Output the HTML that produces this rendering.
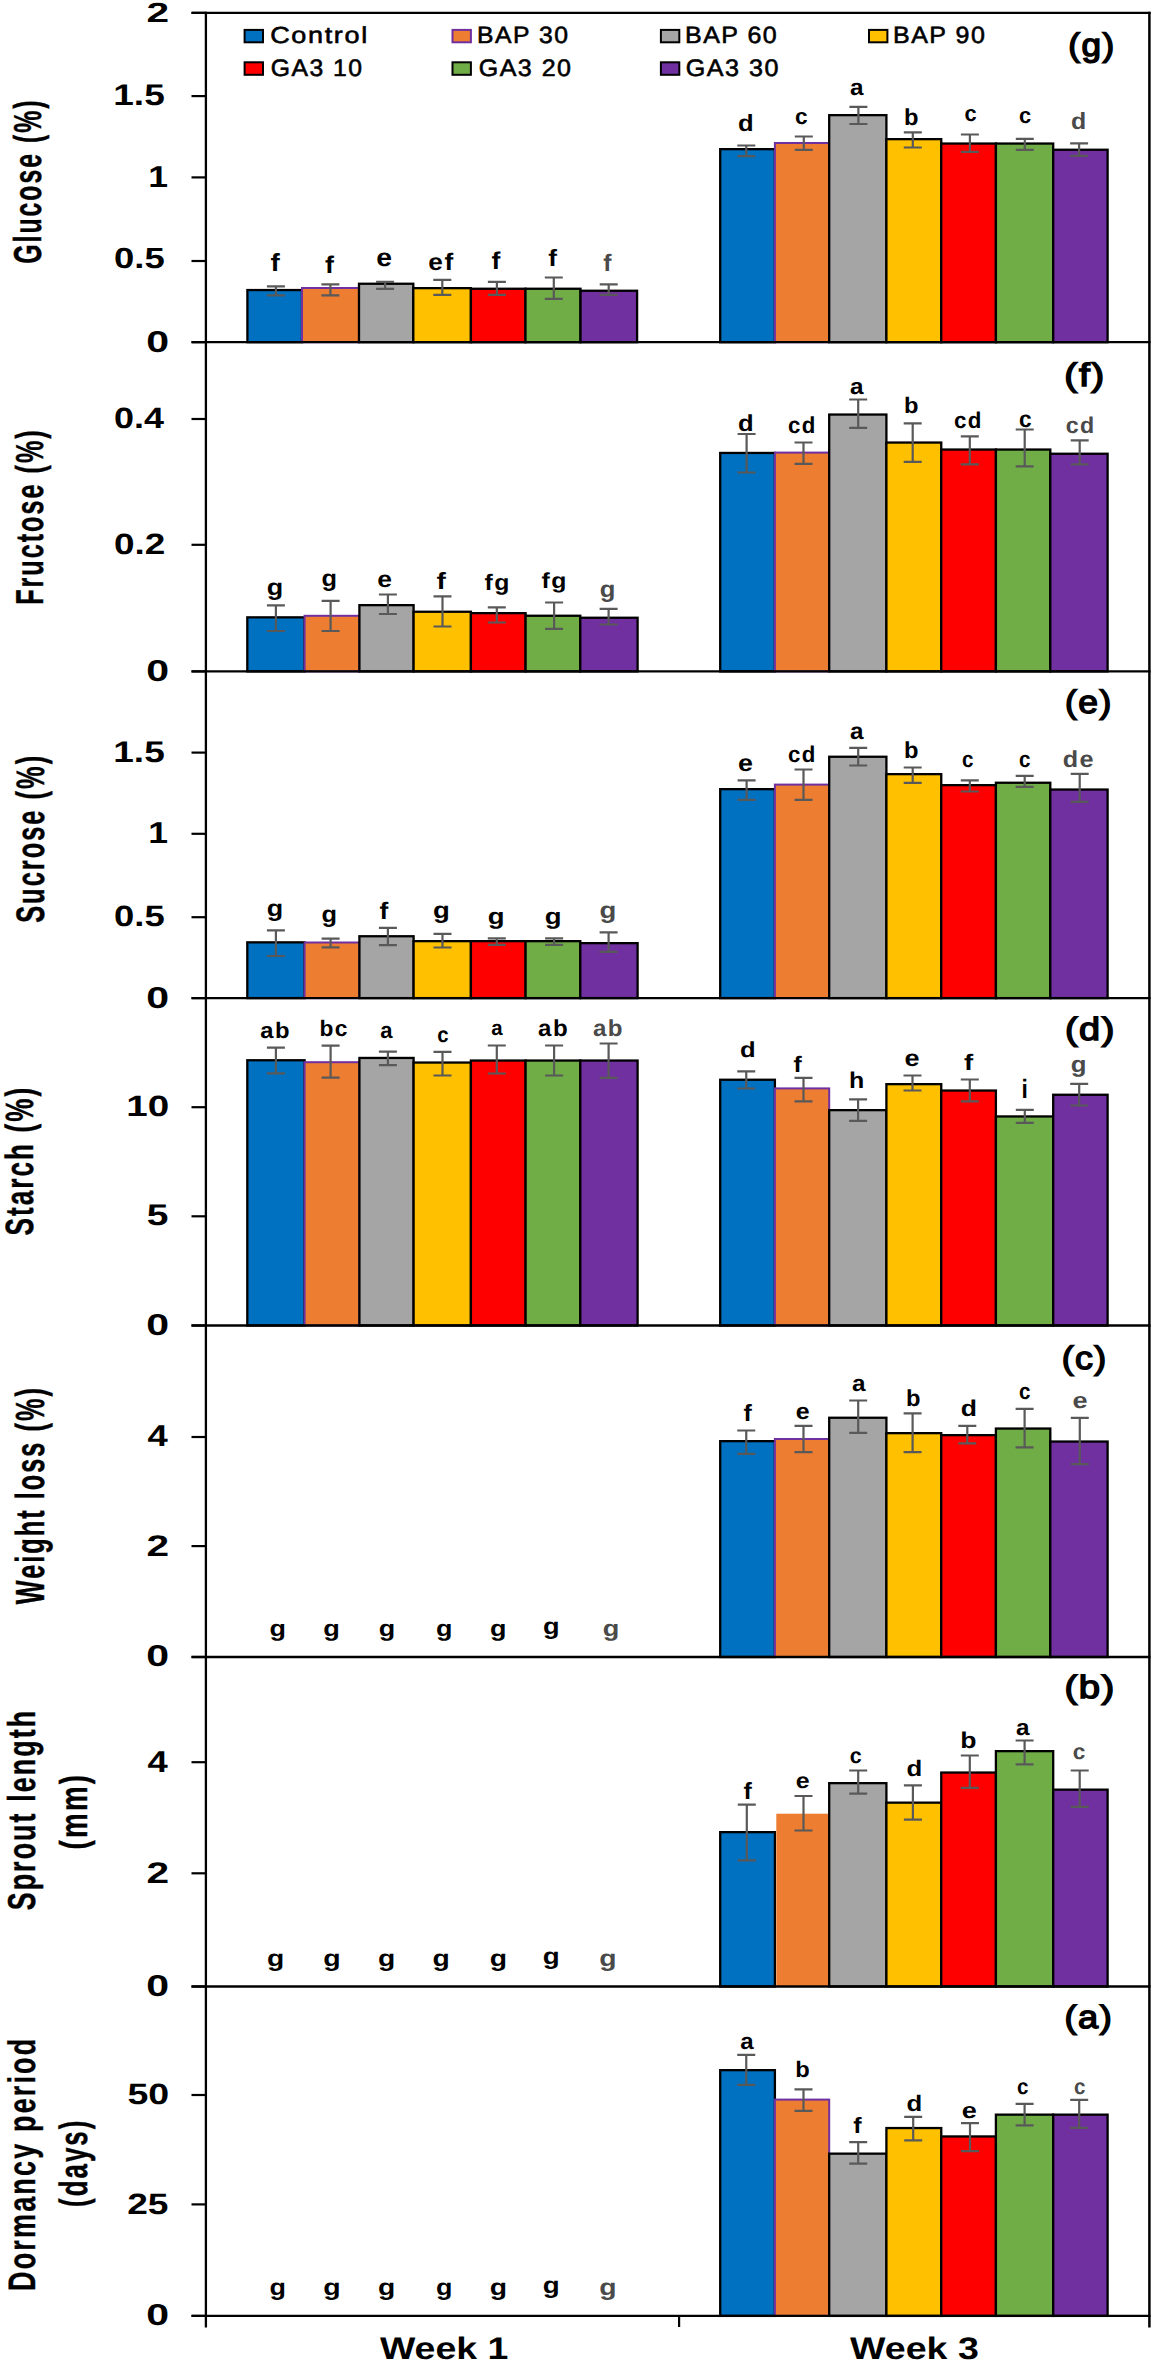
<!DOCTYPE html>
<html><head><meta charset="utf-8"><style>html,body{margin:0;padding:0;background:#fff;width:1152px;height:2362px;overflow:hidden}svg{display:block}text{font-family:"Liberation Sans",sans-serif;font-weight:bold;font-size:100px;text-rendering:geometricPrecision}.reg{font-weight:normal;stroke-width:2.5px}.med{font-weight:bold;stroke-width:1px}.lab{font-weight:bold;stroke-width:0px}.tag{font-weight:normal;stroke-width:4.5px}</style></head><body>
<svg width="1152" height="2362" viewBox="0 0 1152 2362">
<rect x="0" y="0" width="1152" height="2362" fill="#fff"/>
<rect x="247.4" y="290.05" width="54.6" height="52.15" fill="#0070C0" stroke="#000" stroke-width="2.3"/>
<rect x="302" y="288" width="57" height="54.2" fill="#ED7D31" stroke="#7030A0" stroke-width="2.0"/>
<rect x="359" y="283.75" width="54.3" height="58.45" fill="#A5A5A5" stroke="#000" stroke-width="2.3"/>
<rect x="413.3" y="288.15" width="57.6" height="54.05" fill="#FFC000" stroke="#000" stroke-width="2.3"/>
<rect x="470.9" y="288.75" width="54.6" height="53.45" fill="#FF0000" stroke="#000" stroke-width="2.3"/>
<rect x="525.5" y="288.75" width="55" height="53.45" fill="#70AD47" stroke="#000" stroke-width="2.3"/>
<rect x="580.5" y="290.75" width="56.6" height="51.45" fill="#7030A0" stroke="#000" stroke-width="2.3"/>
<rect x="720.2" y="149.15" width="54.7" height="193.05" fill="#0070C0" stroke="#000" stroke-width="2.3"/>
<rect x="774.9" y="143" width="54.3" height="199.2" fill="#ED7D31" stroke="#7030A0" stroke-width="2.0"/>
<rect x="829.2" y="115.15" width="57.2" height="227.05" fill="#A5A5A5" stroke="#000" stroke-width="2.3"/>
<rect x="886.4" y="139.15" width="54.85" height="203.05" fill="#FFC000" stroke="#000" stroke-width="2.3"/>
<rect x="941.25" y="143.55" width="54.65" height="198.65" fill="#FF0000" stroke="#000" stroke-width="2.3"/>
<rect x="995.9" y="143.55" width="57.3" height="198.65" fill="#70AD47" stroke="#000" stroke-width="2.3"/>
<rect x="1053.2" y="149.75" width="54.4" height="192.45" fill="#7030A0" stroke="#000" stroke-width="2.3"/>
<rect x="247.3" y="617.35" width="57.3" height="54.05" fill="#0070C0" stroke="#000" stroke-width="2.3"/>
<rect x="304.6" y="615.8" width="54.8" height="55.6" fill="#ED7D31" stroke="#7030A0" stroke-width="2.0"/>
<rect x="359.4" y="605.15" width="54.2" height="66.25" fill="#A5A5A5" stroke="#000" stroke-width="2.3"/>
<rect x="413.6" y="611.75" width="57.3" height="59.65" fill="#FFC000" stroke="#000" stroke-width="2.3"/>
<rect x="470.9" y="613.15" width="54.7" height="58.25" fill="#FF0000" stroke="#000" stroke-width="2.3"/>
<rect x="525.6" y="615.75" width="54.7" height="55.65" fill="#70AD47" stroke="#000" stroke-width="2.3"/>
<rect x="580.3" y="617.75" width="57.3" height="53.65" fill="#7030A0" stroke="#000" stroke-width="2.3"/>
<rect x="720.2" y="452.95" width="54.7" height="218.45" fill="#0070C0" stroke="#000" stroke-width="2.3"/>
<rect x="774.9" y="452.6" width="54.3" height="218.8" fill="#ED7D31" stroke="#7030A0" stroke-width="2.0"/>
<rect x="829.2" y="414.55" width="57.2" height="256.85" fill="#A5A5A5" stroke="#000" stroke-width="2.3"/>
<rect x="886.4" y="442.55" width="54.85" height="228.85" fill="#FFC000" stroke="#000" stroke-width="2.3"/>
<rect x="941.25" y="449.55" width="54.65" height="221.85" fill="#FF0000" stroke="#000" stroke-width="2.3"/>
<rect x="995.9" y="449.55" width="54.4" height="221.85" fill="#70AD47" stroke="#000" stroke-width="2.3"/>
<rect x="1050.3" y="453.75" width="57.3" height="217.65" fill="#7030A0" stroke="#000" stroke-width="2.3"/>
<rect x="247.3" y="942.35" width="57.3" height="55.75" fill="#0070C0" stroke="#000" stroke-width="2.3"/>
<rect x="304.6" y="942.5" width="54.8" height="55.6" fill="#ED7D31" stroke="#7030A0" stroke-width="2.0"/>
<rect x="359.4" y="936.25" width="54.2" height="61.85" fill="#A5A5A5" stroke="#000" stroke-width="2.3"/>
<rect x="413.6" y="941.15" width="57.3" height="56.95" fill="#FFC000" stroke="#000" stroke-width="2.3"/>
<rect x="470.9" y="941.15" width="54.7" height="56.95" fill="#FF0000" stroke="#000" stroke-width="2.3"/>
<rect x="525.6" y="941.15" width="54.7" height="56.95" fill="#70AD47" stroke="#000" stroke-width="2.3"/>
<rect x="580.3" y="943.15" width="57.3" height="54.95" fill="#7030A0" stroke="#000" stroke-width="2.3"/>
<rect x="720.2" y="789.15" width="54.7" height="208.95" fill="#0070C0" stroke="#000" stroke-width="2.3"/>
<rect x="774.9" y="784.6" width="54.3" height="213.5" fill="#ED7D31" stroke="#7030A0" stroke-width="2.0"/>
<rect x="829.2" y="756.75" width="57.2" height="241.35" fill="#A5A5A5" stroke="#000" stroke-width="2.3"/>
<rect x="886.4" y="774.15" width="54.85" height="223.95" fill="#FFC000" stroke="#000" stroke-width="2.3"/>
<rect x="941.25" y="785.15" width="54.65" height="212.95" fill="#FF0000" stroke="#000" stroke-width="2.3"/>
<rect x="995.9" y="782.75" width="54.4" height="215.35" fill="#70AD47" stroke="#000" stroke-width="2.3"/>
<rect x="1050.3" y="789.55" width="57.3" height="208.55" fill="#7030A0" stroke="#000" stroke-width="2.3"/>
<rect x="247.3" y="1060.25" width="57.3" height="265.25" fill="#0070C0" stroke="#000" stroke-width="2.3"/>
<rect x="304.6" y="1062.2" width="54.8" height="263.3" fill="#ED7D31" stroke="#7030A0" stroke-width="2.0"/>
<rect x="359.4" y="1057.95" width="54.2" height="267.55" fill="#A5A5A5" stroke="#000" stroke-width="2.3"/>
<rect x="413.6" y="1062.55" width="57.3" height="262.95" fill="#FFC000" stroke="#000" stroke-width="2.3"/>
<rect x="470.9" y="1060.55" width="54.7" height="264.95" fill="#FF0000" stroke="#000" stroke-width="2.3"/>
<rect x="525.6" y="1060.55" width="54.7" height="264.95" fill="#70AD47" stroke="#000" stroke-width="2.3"/>
<rect x="580.3" y="1060.55" width="57.3" height="264.95" fill="#7030A0" stroke="#000" stroke-width="2.3"/>
<rect x="720.2" y="1079.75" width="54.7" height="245.75" fill="#0070C0" stroke="#000" stroke-width="2.3"/>
<rect x="774.9" y="1088.4" width="54.3" height="237.1" fill="#ED7D31" stroke="#7030A0" stroke-width="2.0"/>
<rect x="829.2" y="1110.15" width="57.2" height="215.35" fill="#A5A5A5" stroke="#000" stroke-width="2.3"/>
<rect x="886.4" y="1084.15" width="54.85" height="241.35" fill="#FFC000" stroke="#000" stroke-width="2.3"/>
<rect x="941.25" y="1090.55" width="54.65" height="234.95" fill="#FF0000" stroke="#000" stroke-width="2.3"/>
<rect x="995.9" y="1116.45" width="57.3" height="209.05" fill="#70AD47" stroke="#000" stroke-width="2.3"/>
<rect x="1053.2" y="1094.75" width="54.4" height="230.75" fill="#7030A0" stroke="#000" stroke-width="2.3"/>
<rect x="720.2" y="1441.15" width="54.7" height="215.85" fill="#0070C0" stroke="#000" stroke-width="2.3"/>
<rect x="774.9" y="1439" width="54.3" height="218" fill="#ED7D31" stroke="#7030A0" stroke-width="2.0"/>
<rect x="829.2" y="1417.75" width="57.2" height="239.25" fill="#A5A5A5" stroke="#000" stroke-width="2.3"/>
<rect x="886.4" y="1433.15" width="54.85" height="223.85" fill="#FFC000" stroke="#000" stroke-width="2.3"/>
<rect x="941.25" y="1435.15" width="54.65" height="221.85" fill="#FF0000" stroke="#000" stroke-width="2.3"/>
<rect x="995.9" y="1428.55" width="54.4" height="228.45" fill="#70AD47" stroke="#000" stroke-width="2.3"/>
<rect x="1050.3" y="1441.55" width="57.3" height="215.45" fill="#7030A0" stroke="#000" stroke-width="2.3"/>
<rect x="720.2" y="1832.15" width="54.7" height="154.35" fill="#0070C0" stroke="#000" stroke-width="2.3"/>
<rect x="776.3" y="1813.7" width="52.9" height="172.8" fill="#ED7D31"/>
<rect x="829.2" y="1783.15" width="57.2" height="203.35" fill="#A5A5A5" stroke="#000" stroke-width="2.3"/>
<rect x="886.4" y="1802.65" width="54.85" height="183.85" fill="#FFC000" stroke="#000" stroke-width="2.3"/>
<rect x="941.25" y="1772.55" width="54.65" height="213.95" fill="#FF0000" stroke="#000" stroke-width="2.3"/>
<rect x="995.9" y="1751.15" width="57.3" height="235.35" fill="#70AD47" stroke="#000" stroke-width="2.3"/>
<rect x="1053.2" y="1789.65" width="54.4" height="196.85" fill="#7030A0" stroke="#000" stroke-width="2.3"/>
<rect x="720.2" y="2070.15" width="54.7" height="245.75" fill="#0070C0" stroke="#000" stroke-width="2.3"/>
<rect x="774.9" y="2099.6" width="54.3" height="216.3" fill="#ED7D31" stroke="#7030A0" stroke-width="2.0"/>
<rect x="829.2" y="2153.65" width="57.2" height="162.25" fill="#A5A5A5" stroke="#000" stroke-width="2.3"/>
<rect x="886.4" y="2128.05" width="54.85" height="187.85" fill="#FFC000" stroke="#000" stroke-width="2.3"/>
<rect x="941.25" y="2136.45" width="54.65" height="179.45" fill="#FF0000" stroke="#000" stroke-width="2.3"/>
<rect x="995.9" y="2114.65" width="57.3" height="201.25" fill="#70AD47" stroke="#000" stroke-width="2.3"/>
<rect x="1053.2" y="2114.65" width="54.4" height="201.25" fill="#7030A0" stroke="#000" stroke-width="2.3"/>
<path d="M275.9 286.3V295.3M266.9 286.3H284.9M266.9 295.3H284.9" stroke="#595959" stroke-width="2.2" fill="none"/>
<path d="M330.4 284.4V295.3M321.4 284.4H339.4M321.4 295.3H339.4" stroke="#595959" stroke-width="2.2" fill="none"/>
<path d="M385.1 281.8V288.8M376.1 281.8H394.1M376.1 288.8H394.1" stroke="#595959" stroke-width="2.2" fill="none"/>
<path d="M442.3 279.9V294.9M433.3 279.9H451.3M433.3 294.9H451.3" stroke="#595959" stroke-width="2.2" fill="none"/>
<path d="M496.9 281.9V294.9M487.9 281.9H505.9M487.9 294.9H505.9" stroke="#595959" stroke-width="2.2" fill="none"/>
<path d="M553.8 277.5V298.9M544.8 277.5H562.8M544.8 298.9H562.8" stroke="#595959" stroke-width="2.2" fill="none"/>
<path d="M608.7 284.3V294.9M599.7 284.3H617.7M599.7 294.9H617.7" stroke="#595959" stroke-width="2.2" fill="none"/>
<path d="M746.3 145.5V156.2M737.3 145.5H755.3M737.3 156.2H755.3" stroke="#595959" stroke-width="2.2" fill="none"/>
<path d="M803.8 136.5V149.9M794.8 136.5H812.8M794.8 149.9H812.8" stroke="#595959" stroke-width="2.2" fill="none"/>
<path d="M858.4 106.8V124M849.4 106.8H867.4M849.4 124H867.4" stroke="#595959" stroke-width="2.2" fill="none"/>
<path d="M912.8 132.3V147.5M903.8 132.3H921.8M903.8 147.5H921.8" stroke="#595959" stroke-width="2.2" fill="none"/>
<path d="M969.9 134.5V151.9M960.9 134.5H978.9M960.9 151.9H978.9" stroke="#595959" stroke-width="2.2" fill="none"/>
<path d="M1024.8 138.9V149.9M1015.8 138.9H1033.8M1015.8 149.9H1033.8" stroke="#595959" stroke-width="2.2" fill="none"/>
<path d="M1079.1 143.3V155.8M1070.1 143.3H1088.1M1070.1 155.8H1088.1" stroke="#595959" stroke-width="2.2" fill="none"/>
<path d="M275.9 605.3V631M266.9 605.3H284.9M266.9 631H284.9" stroke="#595959" stroke-width="2.2" fill="none"/>
<path d="M330.6 600.9V631M321.6 600.9H339.6M321.6 631H339.6" stroke="#595959" stroke-width="2.2" fill="none"/>
<path d="M387.9 594.5V614M378.9 594.5H396.9M378.9 614H396.9" stroke="#595959" stroke-width="2.2" fill="none"/>
<path d="M442.5 596.3V626.5M433.5 596.3H451.5M433.5 626.5H451.5" stroke="#595959" stroke-width="2.2" fill="none"/>
<path d="M496.8 607.3V622.5M487.8 607.3H505.8M487.8 622.5H505.8" stroke="#595959" stroke-width="2.2" fill="none"/>
<path d="M554.1 602.5V628.9M545.1 602.5H563.1M545.1 628.9H563.1" stroke="#595959" stroke-width="2.2" fill="none"/>
<path d="M608.6 608.9V624.5M599.6 608.9H617.6M599.6 624.5H617.6" stroke="#595959" stroke-width="2.2" fill="none"/>
<path d="M746.6 434V472.5M737.6 434H755.6M737.6 472.5H755.6" stroke="#595959" stroke-width="2.2" fill="none"/>
<path d="M803.5 442.5V463.8M794.5 442.5H812.5M794.5 463.8H812.5" stroke="#595959" stroke-width="2.2" fill="none"/>
<path d="M858.2 399.5V427.9M849.2 399.5H867.2M849.2 427.9H867.2" stroke="#595959" stroke-width="2.2" fill="none"/>
<path d="M912.7 423.3V461.8M903.7 423.3H921.7M903.7 461.8H921.7" stroke="#595959" stroke-width="2.2" fill="none"/>
<path d="M969.8 436.3V464.3M960.8 436.3H978.8M960.8 464.3H978.8" stroke="#595959" stroke-width="2.2" fill="none"/>
<path d="M1024.7 429.5V466.3M1015.7 429.5H1033.7M1015.7 466.3H1033.7" stroke="#595959" stroke-width="2.2" fill="none"/>
<path d="M1079.7 440.3V464.3M1070.7 440.3H1088.7M1070.7 464.3H1088.7" stroke="#595959" stroke-width="2.2" fill="none"/>
<path d="M275.9 930.3V956M266.9 930.3H284.9M266.9 956H284.9" stroke="#595959" stroke-width="2.2" fill="none"/>
<path d="M330.6 938.6V947.3M321.6 938.6H339.6M321.6 947.3H339.6" stroke="#595959" stroke-width="2.2" fill="none"/>
<path d="M387.9 927.8V945.2M378.9 927.8H396.9M378.9 945.2H396.9" stroke="#595959" stroke-width="2.2" fill="none"/>
<path d="M442.5 933.9V947.5M433.5 933.9H451.5M433.5 947.5H451.5" stroke="#595959" stroke-width="2.2" fill="none"/>
<path d="M496.8 938.3V944.9M487.8 938.3H505.8M487.8 944.9H505.8" stroke="#595959" stroke-width="2.2" fill="none"/>
<path d="M554.1 938.3V944.9M545.1 938.3H563.1M545.1 944.9H563.1" stroke="#595959" stroke-width="2.2" fill="none"/>
<path d="M608.6 932.3V951.9M599.6 932.3H617.6M599.6 951.9H617.6" stroke="#595959" stroke-width="2.2" fill="none"/>
<path d="M746.6 780.3V799.8M737.6 780.3H755.6M737.6 799.8H755.6" stroke="#595959" stroke-width="2.2" fill="none"/>
<path d="M803.5 769.5V799.8M794.5 769.5H812.5M794.5 799.8H812.5" stroke="#595959" stroke-width="2.2" fill="none"/>
<path d="M858.2 747.9V765.5M849.2 747.9H867.2M849.2 765.5H867.2" stroke="#595959" stroke-width="2.2" fill="none"/>
<path d="M912.7 767.5V782.9M903.7 767.5H921.7M903.7 782.9H921.7" stroke="#595959" stroke-width="2.2" fill="none"/>
<path d="M969.8 780.3V791.5M960.8 780.3H978.8M960.8 791.5H978.8" stroke="#595959" stroke-width="2.2" fill="none"/>
<path d="M1024.7 775.9V786.9M1015.7 775.9H1033.7M1015.7 786.9H1033.7" stroke="#595959" stroke-width="2.2" fill="none"/>
<path d="M1079.7 773.9V801.8M1070.7 773.9H1088.7M1070.7 801.8H1088.7" stroke="#595959" stroke-width="2.2" fill="none"/>
<path d="M275.9 1047.7V1073.4M266.9 1047.7H284.9M266.9 1073.4H284.9" stroke="#595959" stroke-width="2.2" fill="none"/>
<path d="M330.6 1045.6V1077.7M321.6 1045.6H339.6M321.6 1077.7H339.6" stroke="#595959" stroke-width="2.2" fill="none"/>
<path d="M387.9 1051.7V1065.2M378.9 1051.7H396.9M378.9 1065.2H396.9" stroke="#595959" stroke-width="2.2" fill="none"/>
<path d="M442.5 1051.9V1075.5M433.5 1051.9H451.5M433.5 1075.5H451.5" stroke="#595959" stroke-width="2.2" fill="none"/>
<path d="M496.8 1045.5V1073.5M487.8 1045.5H505.8M487.8 1073.5H505.8" stroke="#595959" stroke-width="2.2" fill="none"/>
<path d="M554.1 1045.5V1075.5M545.1 1045.5H563.1M545.1 1075.5H563.1" stroke="#595959" stroke-width="2.2" fill="none"/>
<path d="M608.6 1043.5V1077.9M599.6 1043.5H617.6M599.6 1077.9H617.6" stroke="#595959" stroke-width="2.2" fill="none"/>
<path d="M746.25 1071.3V1088.5M737.25 1071.3H755.25M737.25 1088.5H755.25" stroke="#595959" stroke-width="2.2" fill="none"/>
<path d="M803.5 1077.9V1101.3M794.5 1077.9H812.5M794.5 1101.3H812.5" stroke="#595959" stroke-width="2.2" fill="none"/>
<path d="M858.1 1099.3V1120.8M849.1 1099.3H867.1M849.1 1120.8H867.1" stroke="#595959" stroke-width="2.2" fill="none"/>
<path d="M912.5 1075.5V1090.5M903.5 1075.5H921.5M903.5 1090.5H921.5" stroke="#595959" stroke-width="2.2" fill="none"/>
<path d="M969.8 1079.5V1101.3M960.8 1079.5H978.8M960.8 1101.3H978.8" stroke="#595959" stroke-width="2.2" fill="none"/>
<path d="M1024.8 1109.9V1122.8M1015.8 1109.9H1033.8M1015.8 1122.8H1033.8" stroke="#595959" stroke-width="2.2" fill="none"/>
<path d="M1079.2 1083.9V1105.5M1070.2 1083.9H1088.2M1070.2 1105.5H1088.2" stroke="#595959" stroke-width="2.2" fill="none"/>
<path d="M746.25 1430.5V1453.8M737.25 1430.5H755.25M737.25 1453.8H755.25" stroke="#595959" stroke-width="2.2" fill="none"/>
<path d="M803.5 1425.9V1452.2M794.5 1425.9H812.5M794.5 1452.2H812.5" stroke="#595959" stroke-width="2.2" fill="none"/>
<path d="M858.2 1400.5V1432.9M849.2 1400.5H867.2M849.2 1432.9H867.2" stroke="#595959" stroke-width="2.2" fill="none"/>
<path d="M912.6 1413.3V1452.2M903.6 1413.3H921.6M903.6 1452.2H921.6" stroke="#595959" stroke-width="2.2" fill="none"/>
<path d="M967.3 1425.9V1443.4M958.3 1425.9H976.3M958.3 1443.4H976.3" stroke="#595959" stroke-width="2.2" fill="none"/>
<path d="M1024.6 1408.9V1447.4M1015.6 1408.9H1033.6M1015.6 1447.4H1033.6" stroke="#595959" stroke-width="2.2" fill="none"/>
<path d="M1079.8 1417.9V1464.2M1070.8 1417.9H1088.8M1070.8 1464.2H1088.8" stroke="#595959" stroke-width="2.2" fill="none"/>
<path d="M746.8 1804.6V1860.3M737.8 1804.6H755.8M737.8 1860.3H755.8" stroke="#595959" stroke-width="2.2" fill="none"/>
<path d="M803.5 1796V1830.5M794.5 1796H812.5M794.5 1830.5H812.5" stroke="#595959" stroke-width="2.2" fill="none"/>
<path d="M858.2 1770.5V1793.7M849.2 1770.5H867.2M849.2 1793.7H867.2" stroke="#595959" stroke-width="2.2" fill="none"/>
<path d="M912.9 1785.4V1819.6M903.9 1785.4H921.9M903.9 1819.6H921.9" stroke="#595959" stroke-width="2.2" fill="none"/>
<path d="M969.8 1755.5V1787.8M960.8 1755.5H978.8M960.8 1787.8H978.8" stroke="#595959" stroke-width="2.2" fill="none"/>
<path d="M1024.6 1740.5V1764.3M1015.6 1740.5H1033.6M1015.6 1764.3H1033.6" stroke="#595959" stroke-width="2.2" fill="none"/>
<path d="M1079.7 1770.5V1806.8M1070.7 1770.5H1088.7M1070.7 1806.8H1088.7" stroke="#595959" stroke-width="2.2" fill="none"/>
<path d="M746.25 2054.9V2084.9M737.25 2054.9H755.25M737.25 2084.9H755.25" stroke="#595959" stroke-width="2.2" fill="none"/>
<path d="M803.5 2089.3V2110.8M794.5 2089.3H812.5M794.5 2110.8H812.5" stroke="#595959" stroke-width="2.2" fill="none"/>
<path d="M858.2 2142.2V2163.7M849.2 2142.2H867.2M849.2 2163.7H867.2" stroke="#595959" stroke-width="2.2" fill="none"/>
<path d="M913.2 2116.8V2140.4M904.2 2116.8H922.2M904.2 2140.4H922.2" stroke="#595959" stroke-width="2.2" fill="none"/>
<path d="M970 2123.2V2151.2M961 2123.2H979M961 2151.2H979" stroke="#595959" stroke-width="2.2" fill="none"/>
<path d="M1024.6 2103.8V2125.4M1015.6 2103.8H1033.6M1015.6 2125.4H1033.6" stroke="#595959" stroke-width="2.2" fill="none"/>
<path d="M1079.2 2099.9V2127.8M1070.2 2099.9H1088.2M1070.2 2127.8H1088.2" stroke="#595959" stroke-width="2.2" fill="none"/>
<line x1="191.5" y1="12.85" x2="1150.55" y2="12.85" stroke="#000" stroke-width="2.3"/>
<line x1="191.5" y1="342.2" x2="1150.55" y2="342.2" stroke="#000" stroke-width="2.3"/>
<line x1="191.5" y1="671.4" x2="1150.55" y2="671.4" stroke="#000" stroke-width="2.3"/>
<line x1="191.5" y1="998.1" x2="1150.55" y2="998.1" stroke="#000" stroke-width="2.3"/>
<line x1="191.5" y1="1325.5" x2="1150.55" y2="1325.5" stroke="#000" stroke-width="2.3"/>
<line x1="191.5" y1="1657" x2="1150.55" y2="1657" stroke="#000" stroke-width="2.3"/>
<line x1="191.5" y1="1986.5" x2="1150.55" y2="1986.5" stroke="#000" stroke-width="2.3"/>
<line x1="191.5" y1="2315.9" x2="1150.55" y2="2315.9" stroke="#000" stroke-width="2.3"/>
<line x1="205.9" y1="11.7" x2="205.9" y2="2327.5" stroke="#000" stroke-width="2.3"/>
<line x1="1149.4" y1="11.7" x2="1149.4" y2="2327.5" stroke="#000" stroke-width="2.5"/>
<line x1="679.1" y1="2315.9" x2="679.1" y2="2327" stroke="#000" stroke-width="2.2"/>
<line x1="191.5" y1="12.85" x2="205.9" y2="12.85" stroke="#000" stroke-width="2.2"/>
<line x1="191.5" y1="96.1" x2="205.9" y2="96.1" stroke="#000" stroke-width="2.2"/>
<line x1="191.5" y1="177.4" x2="205.9" y2="177.4" stroke="#000" stroke-width="2.2"/>
<line x1="191.5" y1="261" x2="205.9" y2="261" stroke="#000" stroke-width="2.2"/>
<line x1="191.5" y1="342.2" x2="205.9" y2="342.2" stroke="#000" stroke-width="2.2"/>
<line x1="191.5" y1="419" x2="205.9" y2="419" stroke="#000" stroke-width="2.2"/>
<line x1="191.5" y1="544.8" x2="205.9" y2="544.8" stroke="#000" stroke-width="2.2"/>
<line x1="191.5" y1="671.4" x2="205.9" y2="671.4" stroke="#000" stroke-width="2.2"/>
<line x1="191.5" y1="752.6" x2="205.9" y2="752.6" stroke="#000" stroke-width="2.2"/>
<line x1="191.5" y1="833.8" x2="205.9" y2="833.8" stroke="#000" stroke-width="2.2"/>
<line x1="191.5" y1="917.2" x2="205.9" y2="917.2" stroke="#000" stroke-width="2.2"/>
<line x1="191.5" y1="998.1" x2="205.9" y2="998.1" stroke="#000" stroke-width="2.2"/>
<line x1="191.5" y1="1107.2" x2="205.9" y2="1107.2" stroke="#000" stroke-width="2.2"/>
<line x1="191.5" y1="1216.3" x2="205.9" y2="1216.3" stroke="#000" stroke-width="2.2"/>
<line x1="191.5" y1="1325.5" x2="205.9" y2="1325.5" stroke="#000" stroke-width="2.2"/>
<line x1="191.5" y1="1437" x2="205.9" y2="1437" stroke="#000" stroke-width="2.2"/>
<line x1="191.5" y1="1546.1" x2="205.9" y2="1546.1" stroke="#000" stroke-width="2.2"/>
<line x1="191.5" y1="1657" x2="205.9" y2="1657" stroke="#000" stroke-width="2.2"/>
<line x1="191.5" y1="1762.2" x2="205.9" y2="1762.2" stroke="#000" stroke-width="2.2"/>
<line x1="191.5" y1="1873.3" x2="205.9" y2="1873.3" stroke="#000" stroke-width="2.2"/>
<line x1="191.5" y1="1986.5" x2="205.9" y2="1986.5" stroke="#000" stroke-width="2.2"/>
<line x1="191.5" y1="2095" x2="205.9" y2="2095" stroke="#000" stroke-width="2.2"/>
<line x1="191.5" y1="2204.4" x2="205.9" y2="2204.4" stroke="#000" stroke-width="2.2"/>
<line x1="191.5" y1="2315.9" x2="205.9" y2="2315.9" stroke="#000" stroke-width="2.2"/>
<text transform="translate(146.58 22.2) scale(0.4062 0.2771)" fill="#000">2</text>
<text transform="translate(113.28 105.2) scale(0.3701 0.2971)" fill="#000">1.5</text>
<text transform="translate(148.37 186.8) scale(0.3553 0.3014)" fill="#000">1</text>
<text transform="translate(114.04 267.51) scale(0.3645 0.2901)" fill="#000">0.5</text>
<text transform="translate(146.36 351.65) scale(0.4105 0.3028)" fill="#000">0</text>
<text transform="translate(114.06 428.11) scale(0.3591 0.2930)" fill="#000">0.4</text>
<text transform="translate(114.03 553.91) scale(0.3687 0.2930)" fill="#000">0.2</text>
<text transform="translate(146.36 680.85) scale(0.4105 0.3028)" fill="#000">0</text>
<text transform="translate(113.28 761.7) scale(0.3701 0.2971)" fill="#000">1.5</text>
<text transform="translate(148.37 843.2) scale(0.3553 0.3014)" fill="#000">1</text>
<text transform="translate(114.04 926.31) scale(0.3645 0.2930)" fill="#000">0.5</text>
<text transform="translate(146.36 1007.55) scale(0.4105 0.3028)" fill="#000">0</text>
<text transform="translate(126.18 1116.31) scale(0.3861 0.2930)" fill="#000">10</text>
<text transform="translate(146.83 1225.4) scale(0.3900 0.2971)" fill="#000">5</text>
<text transform="translate(146.36 1334.95) scale(0.4105 0.3028)" fill="#000">0</text>
<text transform="translate(147.45 1446.4) scale(0.3645 0.3014)" fill="#000">4</text>
<text transform="translate(146.58 1555.5) scale(0.4062 0.2971)" fill="#000">2</text>
<text transform="translate(146.36 1666.45) scale(0.4105 0.3028)" fill="#000">0</text>
<text transform="translate(147.45 1771.6) scale(0.3645 0.3014)" fill="#000">4</text>
<text transform="translate(146.58 1882.7) scale(0.4062 0.2971)" fill="#000">2</text>
<text transform="translate(146.36 1995.95) scale(0.4105 0.3028)" fill="#000">0</text>
<text transform="translate(127.38 2104.11) scale(0.3750 0.2930)" fill="#000">50</text>
<text transform="translate(127.2 2213.51) scale(0.3714 0.2930)" fill="#000">25</text>
<text transform="translate(146.36 2325.35) scale(0.4105 0.3028)" fill="#000">0</text>
<text transform="translate(40.52 263.79) rotate(-90) scale(0.2482 0.3893)" fill="#000" class="med" letter-spacing="8" stroke="#000">Glucose (%)</text>
<text transform="translate(43.02 604.84) rotate(-90) scale(0.2516 0.3893)" fill="#000" class="med" letter-spacing="8" stroke="#000">Fructose (%)</text>
<text transform="translate(43.64 922.86) rotate(-90) scale(0.2538 0.3979)" fill="#000" class="med" letter-spacing="8" stroke="#000">Sucrose (%)</text>
<text transform="translate(32.91 1235.48) rotate(-90) scale(0.2605 0.3947)" fill="#000" class="med" letter-spacing="8" stroke="#000">Starch (%)</text>
<text transform="translate(43.57 1604.2) rotate(-90) scale(0.2528 0.4064)" fill="#000" class="med" letter-spacing="8" stroke="#000">Weight loss (%)</text>
<text transform="translate(35.15 1910.3) rotate(-90) scale(0.2672 0.3882)" fill="#000" class="med" letter-spacing="8" stroke="#000">Sprout length</text>
<text transform="translate(87.25 1849.38) rotate(-90) scale(0.2770 0.3882)" fill="#000" class="med" letter-spacing="8" stroke="#000">(mm)</text>
<text transform="translate(35.36 2290.95) rotate(-90) scale(0.2699 0.3829)" fill="#000" class="med" letter-spacing="8" stroke="#000">Dormancy period</text>
<text transform="translate(87.21 2206.89) rotate(-90) scale(0.2576 0.3947)" fill="#000" class="med" letter-spacing="8" stroke="#000">(days)</text>
<rect x="244.6" y="29.9" width="18.4" height="12.4" fill="#0070C0" stroke="#000" stroke-width="2"/>
<text transform="translate(270.15 43.47) scale(0.2707 0.2313)" fill="#000" class="reg" letter-spacing="6" stroke="#000">Control</text>
<rect x="452.5" y="29.9" width="18.4" height="12.4" fill="#ED7D31" stroke="#7030A0" stroke-width="2"/>
<text transform="translate(477.12 43.46) scale(0.2475 0.2352)" fill="#000" class="reg" letter-spacing="6" stroke="#000">BAP 30</text>
<rect x="660.9" y="29.9" width="18.4" height="12.4" fill="#A5A5A5" stroke="#000" stroke-width="2"/>
<text transform="translate(685 43.46) scale(0.2498 0.2352)" fill="#000" class="reg" letter-spacing="6" stroke="#000">BAP 60</text>
<rect x="869" y="29.9" width="18.4" height="12.4" fill="#FFC000" stroke="#000" stroke-width="2"/>
<text transform="translate(893 43.46) scale(0.2501 0.2352)" fill="#000" class="reg" letter-spacing="6" stroke="#000">BAP 90</text>
<rect x="244.6" y="62.3" width="18.4" height="12.5" fill="#FF0000" stroke="#000" stroke-width="2"/>
<text transform="translate(270.87 75.66) scale(0.2466 0.2394)" fill="#000" class="reg" letter-spacing="6" stroke="#000">GA3 10</text>
<rect x="452.5" y="62.3" width="18.4" height="12.5" fill="#70AD47" stroke="#000" stroke-width="2"/>
<text transform="translate(478.75 75.66) scale(0.2499 0.2394)" fill="#000" class="reg" letter-spacing="6" stroke="#000">GA3 20</text>
<rect x="660.9" y="62.3" width="18.4" height="12.5" fill="#7030A0" stroke="#000" stroke-width="2"/>
<text transform="translate(685.74 75.66) scale(0.2513 0.2394)" fill="#000" class="reg" letter-spacing="6" stroke="#000">GA3 30</text>
<text transform="translate(270.48 270.7) scale(0.2781 0.2469)" fill="#000" class="lab" letter-spacing="6" stroke="#000">f</text>
<text transform="translate(325.1 272.8) scale(0.2688 0.2400)" fill="#000" class="lab" letter-spacing="6" stroke="#000">f</text>
<text transform="translate(376.17 266.45) scale(0.2833 0.2527)" fill="#000" class="lab" letter-spacing="6" stroke="#000">e</text>
<text transform="translate(428.35 270.36) scale(0.2626 0.2395)" fill="#000" class="lab" letter-spacing="6" stroke="#000">ef</text>
<text transform="translate(491.5 268.6) scale(0.2656 0.2428)" fill="#000" class="lab" letter-spacing="6" stroke="#000">f</text>
<text transform="translate(548.31 266) scale(0.2625 0.2345)" fill="#000" class="lab" letter-spacing="6" stroke="#000">f</text>
<text transform="translate(603.33 270.6) scale(0.2469 0.2372)" fill="#4a4a4a" class="lab" letter-spacing="6" stroke="#4a4a4a">f</text>
<text transform="translate(737.98 131.27) scale(0.2554 0.2340)" fill="#000" class="lab" letter-spacing="6" stroke="#000">d</text>
<text transform="translate(794.89 124.07) scale(0.2268 0.2255)" fill="#000" class="lab" letter-spacing="6" stroke="#000">c</text>
<text transform="translate(849.97 94.77) scale(0.2430 0.2291)" fill="#000" class="lab" letter-spacing="6" stroke="#000">a</text>
<text transform="translate(904.06 124.67) scale(0.2376 0.2313)" fill="#000" class="lab" letter-spacing="6" stroke="#000">b</text>
<text transform="translate(964.43 120.67) scale(0.2186 0.2255)" fill="#000" class="lab" letter-spacing="6" stroke="#000">c</text>
<text transform="translate(1018.93 122.67) scale(0.2186 0.2255)" fill="#000" class="lab" letter-spacing="6" stroke="#000">c</text>
<text transform="translate(1071.1 129.27) scale(0.2495 0.2340)" fill="#4a4a4a" class="lab" letter-spacing="6" stroke="#4a4a4a">d</text>
<text transform="translate(1068.29 56.22) scale(0.3517 0.3230)" fill="#000" class="tag" letter-spacing="4" stroke="#000">(g)</text>
<text transform="translate(266.82 594.86) scale(0.2693 0.2307)" fill="#000" class="lab" letter-spacing="6" stroke="#000">g</text>
<text transform="translate(321.59 586.16) scale(0.2535 0.2307)" fill="#000" class="lab" letter-spacing="6" stroke="#000">g</text>
<text transform="translate(377.14 586.97) scale(0.2646 0.2309)" fill="#000" class="lab" letter-spacing="6" stroke="#000">e</text>
<text transform="translate(436.58 589) scale(0.2812 0.2345)" fill="#000" class="lab" letter-spacing="6" stroke="#000">f</text>
<text transform="translate(484.53 590.28) scale(0.2476 0.2246)" fill="#000" class="lab" letter-spacing="6" stroke="#000">fg</text>
<text transform="translate(541.43 588.42) scale(0.2476 0.2182)" fill="#000" class="lab" letter-spacing="6" stroke="#000">fg</text>
<text transform="translate(599.68 597.06) scale(0.2554 0.2307)" fill="#4a4a4a" class="lab" letter-spacing="6" stroke="#4a4a4a">g</text>
<text transform="translate(737.98 430.67) scale(0.2554 0.2313)" fill="#000" class="lab" letter-spacing="6" stroke="#000">d</text>
<text transform="translate(788.01 432.67) scale(0.2223 0.2313)" fill="#000" class="lab" letter-spacing="6" stroke="#000">cd</text>
<text transform="translate(849.97 394.17) scale(0.2430 0.2255)" fill="#000" class="lab" letter-spacing="6" stroke="#000">a</text>
<text transform="translate(904.06 413.28) scale(0.2376 0.2245)" fill="#000" class="lab" letter-spacing="6" stroke="#000">b</text>
<text transform="translate(954.01 428.07) scale(0.2232 0.2272)" fill="#000" class="lab" letter-spacing="6" stroke="#000">cd</text>
<text transform="translate(1018.89 426.67) scale(0.2268 0.2345)" fill="#000" class="lab" letter-spacing="6" stroke="#000">c</text>
<text transform="translate(1065.77 432.67) scale(0.2321 0.2299)" fill="#4a4a4a" class="lab" letter-spacing="6" stroke="#4a4a4a">cd</text>
<text transform="translate(1064.37 385.52) scale(0.3889 0.3230)" fill="#000" class="tag" letter-spacing="4" stroke="#000">(f)</text>
<text transform="translate(266.82 916.03) scale(0.2693 0.2320)" fill="#000" class="lab" letter-spacing="6" stroke="#000">g</text>
<text transform="translate(321.59 922.46) scale(0.2535 0.2307)" fill="#000" class="lab" letter-spacing="6" stroke="#000">g</text>
<text transform="translate(379.51 918.6) scale(0.2625 0.2386)" fill="#000" class="lab" letter-spacing="6" stroke="#000">f</text>
<text transform="translate(432.9 918.06) scale(0.2752 0.2307)" fill="#000" class="lab" letter-spacing="6" stroke="#000">g</text>
<text transform="translate(487.8 924.17) scale(0.2752 0.2253)" fill="#000" class="lab" letter-spacing="6" stroke="#000">g</text>
<text transform="translate(544.7 924.17) scale(0.2752 0.2253)" fill="#000" class="lab" letter-spacing="6" stroke="#000">g</text>
<text transform="translate(599.6 918.06) scale(0.2752 0.2307)" fill="#4a4a4a" class="lab" letter-spacing="6" stroke="#4a4a4a">g</text>
<text transform="translate(737.92 770.66) scale(0.2687 0.2364)" fill="#000" class="lab" letter-spacing="6" stroke="#000">e</text>
<text transform="translate(788.01 762.07) scale(0.2223 0.2286)" fill="#000" class="lab" letter-spacing="6" stroke="#000">cd</text>
<text transform="translate(849.97 738.67) scale(0.2430 0.2345)" fill="#000" class="lab" letter-spacing="6" stroke="#000">a</text>
<text transform="translate(904.06 757.67) scale(0.2376 0.2313)" fill="#000" class="lab" letter-spacing="6" stroke="#000">b</text>
<text transform="translate(962.08 766.67) scale(0.2062 0.2291)" fill="#000" class="lab" letter-spacing="6" stroke="#000">c</text>
<text transform="translate(1018.98 766.67) scale(0.2062 0.2291)" fill="#000" class="lab" letter-spacing="6" stroke="#000">c</text>
<text transform="translate(1062.69 766.67) scale(0.2522 0.2313)" fill="#4a4a4a" class="lab" letter-spacing="6" stroke="#4a4a4a">de</text>
<text transform="translate(1065.07 712.62) scale(0.3542 0.3230)" fill="#000" class="tag" letter-spacing="4" stroke="#000">(e)</text>
<text transform="translate(260.29 1037.58) scale(0.2381 0.2245)" fill="#000" class="lab" letter-spacing="6" stroke="#000">ab</text>
<text transform="translate(319.42 1035.78) scale(0.2274 0.2245)" fill="#000" class="lab" letter-spacing="6" stroke="#000">bc</text>
<text transform="translate(380.14 1037.57) scale(0.2206 0.2273)" fill="#000" class="lab" letter-spacing="6" stroke="#000">a</text>
<text transform="translate(437.18 1041.68) scale(0.2041 0.2164)" fill="#000" class="lab" letter-spacing="6" stroke="#000">c</text>
<text transform="translate(491.29 1035.39) scale(0.2037 0.2109)" fill="#000" class="lab" letter-spacing="6" stroke="#000">a</text>
<text transform="translate(538.08 1035.77) scale(0.2416 0.2313)" fill="#000" class="lab" letter-spacing="6" stroke="#000">ab</text>
<text transform="translate(592.98 1035.77) scale(0.2416 0.2313)" fill="#4a4a4a" class="lab" letter-spacing="6" stroke="#4a4a4a">ab</text>
<text transform="translate(739.98 1056.78) scale(0.2554 0.2177)" fill="#000" class="lab" letter-spacing="6" stroke="#000">d</text>
<text transform="translate(793.53 1071.9) scale(0.2469 0.2248)" fill="#000" class="lab" letter-spacing="6" stroke="#000">f</text>
<text transform="translate(848.95 1087.5) scale(0.2500 0.2290)" fill="#000" class="lab" letter-spacing="6" stroke="#000">h</text>
<text transform="translate(904.52 1065.67) scale(0.2708 0.2345)" fill="#000" class="lab" letter-spacing="6" stroke="#000">e</text>
<text transform="translate(964.09 1069.9) scale(0.2750 0.2248)" fill="#000" class="lab" letter-spacing="6" stroke="#000">f</text>
<text transform="translate(1021.4 1097.9) scale(0.2286 0.2662)" fill="#000" class="lab" letter-spacing="6" stroke="#000">i</text>
<text transform="translate(1070.67 1072.14) scale(0.2574 0.2267)" fill="#4a4a4a" class="lab" letter-spacing="6" stroke="#4a4a4a">g</text>
<text transform="translate(1064.93 1039.84) scale(0.3788 0.3219)" fill="#000" class="tag" letter-spacing="4" stroke="#000">(d)</text>
<text transform="translate(269.42 1636.24) scale(0.2693 0.2267)" fill="#000" class="lab" letter-spacing="6" stroke="#000">g</text>
<text transform="translate(323.21 1636.24) scale(0.2713 0.2267)" fill="#000" class="lab" letter-spacing="6" stroke="#000">g</text>
<text transform="translate(378.82 1636.24) scale(0.2693 0.2267)" fill="#000" class="lab" letter-spacing="6" stroke="#000">g</text>
<text transform="translate(436.12 1636.24) scale(0.2693 0.2267)" fill="#000" class="lab" letter-spacing="6" stroke="#000">g</text>
<text transform="translate(489.92 1636.24) scale(0.2693 0.2267)" fill="#000" class="lab" letter-spacing="6" stroke="#000">g</text>
<text transform="translate(543.01 1634.03) scale(0.2713 0.2320)" fill="#000" class="lab" letter-spacing="6" stroke="#000">g</text>
<text transform="translate(602.71 1636.24) scale(0.2713 0.2267)" fill="#4a4a4a" class="lab" letter-spacing="6" stroke="#4a4a4a">g</text>
<text transform="translate(743.52 1420.9) scale(0.2500 0.2345)" fill="#000" class="lab" letter-spacing="6" stroke="#000">f</text>
<text transform="translate(795.8 1418.67) scale(0.2500 0.2291)" fill="#000" class="lab" letter-spacing="6" stroke="#000">e</text>
<text transform="translate(851.97 1390.67) scale(0.2430 0.2273)" fill="#000" class="lab" letter-spacing="6" stroke="#000">a</text>
<text transform="translate(906.06 1405.67) scale(0.2376 0.2313)" fill="#000" class="lab" letter-spacing="6" stroke="#000">b</text>
<text transform="translate(960.84 1416.07) scale(0.2653 0.2286)" fill="#000" class="lab" letter-spacing="6" stroke="#000">d</text>
<text transform="translate(1018.98 1399.27) scale(0.2062 0.2273)" fill="#000" class="lab" letter-spacing="6" stroke="#000">c</text>
<text transform="translate(1072.62 1407.67) scale(0.2708 0.2255)" fill="#4a4a4a" class="lab" letter-spacing="6" stroke="#4a4a4a">e</text>
<text transform="translate(1061.65 1368.92) scale(0.3582 0.3230)" fill="#000" class="tag" letter-spacing="4" stroke="#000">(c)</text>
<text transform="translate(266.97 1966.13) scale(0.2832 0.2320)" fill="#000" class="lab" letter-spacing="6" stroke="#000">g</text>
<text transform="translate(323.16 1966.13) scale(0.2851 0.2320)" fill="#000" class="lab" letter-spacing="6" stroke="#000">g</text>
<text transform="translate(378.07 1966.13) scale(0.2832 0.2320)" fill="#000" class="lab" letter-spacing="6" stroke="#000">g</text>
<text transform="translate(432.57 1966.13) scale(0.2832 0.2320)" fill="#000" class="lab" letter-spacing="6" stroke="#000">g</text>
<text transform="translate(489.87 1966.13) scale(0.2832 0.2320)" fill="#000" class="lab" letter-spacing="6" stroke="#000">g</text>
<text transform="translate(542.69 1964.03) scale(0.2772 0.2320)" fill="#000" class="lab" letter-spacing="6" stroke="#000">g</text>
<text transform="translate(599.27 1966.13) scale(0.2832 0.2320)" fill="#4a4a4a" class="lab" letter-spacing="6" stroke="#4a4a4a">g</text>
<text transform="translate(743.52 1798.8) scale(0.2500 0.2331)" fill="#000" class="lab" letter-spacing="6" stroke="#000">f</text>
<text transform="translate(795.8 1787.58) scale(0.2500 0.2164)" fill="#000" class="lab" letter-spacing="6" stroke="#000">e</text>
<text transform="translate(849.84 1762.68) scale(0.2144 0.2182)" fill="#000" class="lab" letter-spacing="6" stroke="#000">c</text>
<text transform="translate(906.57 1775.68) scale(0.2574 0.2231)" fill="#000" class="lab" letter-spacing="6" stroke="#000">d</text>
<text transform="translate(960.18 1748.07) scale(0.2653 0.2286)" fill="#000" class="lab" letter-spacing="6" stroke="#000">b</text>
<text transform="translate(1016.07 1734.67) scale(0.2430 0.2255)" fill="#000" class="lab" letter-spacing="6" stroke="#000">a</text>
<text transform="translate(1072.79 1758.68) scale(0.2268 0.2182)" fill="#4a4a4a" class="lab" letter-spacing="6" stroke="#4a4a4a">c</text>
<text transform="translate(1064.4 1698.44) scale(0.3831 0.3219)" fill="#000" class="tag" letter-spacing="4" stroke="#000">(b)</text>
<text transform="translate(269.42 2295.13) scale(0.2693 0.2320)" fill="#000" class="lab" letter-spacing="6" stroke="#000">g</text>
<text transform="translate(323.16 2295.13) scale(0.2851 0.2320)" fill="#000" class="lab" letter-spacing="6" stroke="#000">g</text>
<text transform="translate(378.07 2295.13) scale(0.2832 0.2320)" fill="#000" class="lab" letter-spacing="6" stroke="#000">g</text>
<text transform="translate(436.12 2295.13) scale(0.2693 0.2320)" fill="#000" class="lab" letter-spacing="6" stroke="#000">g</text>
<text transform="translate(489.87 2295.13) scale(0.2832 0.2320)" fill="#000" class="lab" letter-spacing="6" stroke="#000">g</text>
<text transform="translate(542.69 2293.33) scale(0.2772 0.2320)" fill="#000" class="lab" letter-spacing="6" stroke="#000">g</text>
<text transform="translate(599.27 2295.13) scale(0.2832 0.2320)" fill="#4a4a4a" class="lab" letter-spacing="6" stroke="#4a4a4a">g</text>
<text transform="translate(740.28 2049.27) scale(0.2411 0.2273)" fill="#000" class="lab" letter-spacing="6" stroke="#000">a</text>
<text transform="translate(795.26 2077.27) scale(0.2376 0.2259)" fill="#000" class="lab" letter-spacing="6" stroke="#000">b</text>
<text transform="translate(853.33 2132.8) scale(0.2500 0.2207)" fill="#000" class="lab" letter-spacing="6" stroke="#000">f</text>
<text transform="translate(906.57 2111.18) scale(0.2574 0.2245)" fill="#000" class="lab" letter-spacing="6" stroke="#000">d</text>
<text transform="translate(961.82 2117.57) scale(0.2708 0.2255)" fill="#000" class="lab" letter-spacing="6" stroke="#000">e</text>
<text transform="translate(1016.98 2094.08) scale(0.2062 0.2182)" fill="#000" class="lab" letter-spacing="6" stroke="#000">c</text>
<text transform="translate(1073.88 2094.08) scale(0.2062 0.2182)" fill="#4a4a4a" class="lab" letter-spacing="6" stroke="#4a4a4a">c</text>
<text transform="translate(1064.52 2027.94) scale(0.3627 0.3219)" fill="#000" class="tag" letter-spacing="4" stroke="#000">(a)</text>
<text transform="translate(379.9 2358.99) scale(0.3750 0.3116)" fill="#000">Week 1</text>
<text transform="translate(849.9 2358.99) scale(0.3761 0.3116)" fill="#000">Week 3</text>
</svg></body></html>
